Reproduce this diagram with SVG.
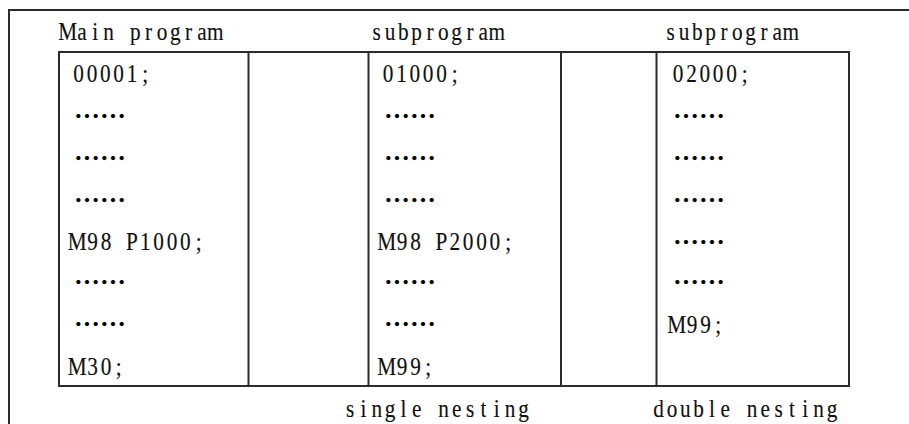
<svg xmlns="http://www.w3.org/2000/svg" width="909" height="424" viewBox="0 0 909 424">
<style>
.ln{stroke:#2b2b2b;stroke-width:2;fill:none}
.t{font-family:"Liberation Serif","DejaVu Serif",serif;font-size:25px;fill:#111;stroke:#111;stroke-width:0.15;text-anchor:middle}
.d{font-family:"Noto Sans CJK SC","Noto Sans CJK JP",sans-serif;font-size:26px;font-weight:700;fill:#000}
</style>
<rect width="909" height="424" fill="#fff"/>
<g id="frame">
<path class="ln" d="M9 424V10H909"/>
</g>
<g id="table">
<path class="ln" d="M59 52H849V386H59Z"/>
<path class="ln" d="M248.5 52V386M368.5 52V386M561 52V386M656.5 52V386"/>
</g>
<g id="headers">
<text class="t" transform="translate(62,40) scale(0.85,1)" x="6.6 23.53 39.22 54.90 70.59 86.27 101.96 117.65 133.33 149.02 164.71 180.39" y="0">Main program</text>
<text class="t" transform="translate(370,40) scale(0.85,1)" x="7.84 23.53 39.22 54.90 70.59 86.27 101.96 117.65 133.33 149.02" y="0">subprogram</text>
<text class="t" transform="translate(664,40) scale(0.85,1)" x="7.84 23.53 39.22 54.90 70.59 86.27 101.96 117.65 133.33 149.02" y="0">subprogram</text>
</g>
<g id="main-program">
<text class="t" transform="translate(72,82) scale(0.85,1)" x="7.84 23.53 39.22 54.90 70.59 86.27" y="0">00001;</text>
<text class="d" x="74" y="126">……</text>
<text class="d" x="74" y="168">……</text>
<text class="d" x="74" y="210">……</text>
<text class="t" transform="translate(72,250) scale(0.85,1)" x="6.2 24.3 40.0 54.90 70.59 86.27 101.96 117.65 133.33 149.02" y="0">M98 P1000;</text>
<text class="d" x="74" y="292">……</text>
<text class="d" x="74" y="334">……</text>
<text class="t" transform="translate(72,375) scale(0.85,1)" x="6.2 24.3 40.0 54.90" y="0">M30;</text>
</g>
<g id="subprogram-1">
<text class="t" transform="translate(381.5,82) scale(0.85,1)" x="7.84 23.53 39.22 54.90 70.59 86.27" y="0">01000;</text>
<text class="d" x="384" y="126">……</text>
<text class="d" x="384" y="168">……</text>
<text class="d" x="384" y="210">……</text>
<text class="t" transform="translate(381.5,250) scale(0.85,1)" x="6.2 24.3 40.0 54.90 70.59 86.27 101.96 117.65 133.33 149.02" y="0">M98 P2000;</text>
<text class="d" x="384" y="292">……</text>
<text class="d" x="384" y="334">……</text>
<text class="t" transform="translate(381.5,375) scale(0.85,1)" x="6.2 24.3 40.0 54.90" y="0">M99;</text>
</g>
<g id="subprogram-2">
<text class="t" transform="translate(671.5,82) scale(0.85,1)" x="7.84 23.53 39.22 54.90 70.59 86.27" y="0">02000;</text>
<text class="d" x="673" y="126">……</text>
<text class="d" x="673" y="168">……</text>
<text class="d" x="673" y="210">……</text>
<text class="d" x="673" y="252">……</text>
<text class="d" x="673" y="292">……</text>
<text class="t" transform="translate(671.5,333) scale(0.85,1)" x="6.2 24.3 40.0 54.90" y="0">M99;</text>
</g>
<g id="captions">
<text class="t" transform="translate(343.5,417) scale(0.85,1)" x="7.84 23.53 39.22 54.90 70.59 86.27 101.96 117.65 133.33 149.02 164.71 180.39 196.08 211.76" y="0">single nesting</text>
<text class="t" transform="translate(652,417) scale(0.85,1)" x="7.84 23.53 39.22 54.90 70.59 86.27 101.96 117.65 133.33 149.02 164.71 180.39 196.08 211.76" y="0">double nesting</text>
</g>
<g id="connectors"/>
</svg>
